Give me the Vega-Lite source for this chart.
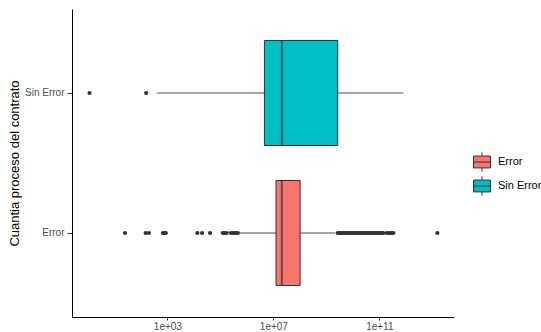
{
  "$schema": "https://vega.github.io/schema/vega-lite/v6.json",
  "autosize": "none",
  "width": 382,
  "height": 308,
  "padding": {"left": 72, "top": 9, "right": 87, "bottom": 15},
  "background": "white",
  "config": {
    "font": "Liberation Sans",
    "view": {"stroke": null},
    "axis": {"grid": false, "domainColor": "#000000", "domainWidth": 1, "tickColor": "#333333", "tickSize": 5, "labelColor": "#4d4d4d", "labelFontSize": 10, "titleFontWeight": "normal", "titleColor": "#000000", "titleFontSize": 13}
  },
  "datasets": {
    "stats": [
      {"grupo": "Sin Error", "lower": 400, "q1": 4.6e6, "median": 2.1e7, "q3": 2.7e9, "upper": 8.1e11},
      {"grupo": "Error", "lower": 5.5e5, "q1": 1.26e7, "median": 2.09e7, "q3": 1.02e8, "upper": 2.14e9}
    ],
    "outliers": [
      {"grupo": "Sin Error", "valor": 1.15},
      {"grupo": "Sin Error", "valor": 158},
      {"grupo": "Error", "valor": 25},
      {"grupo": "Error", "valor": 151},
      {"grupo": "Error", "valor": 200},
      {"grupo": "Error", "valor": 676},
      {"grupo": "Error", "valor": 794},
      {"grupo": "Error", "valor": 871},
      {"grupo": "Error", "valor": 13500},
      {"grupo": "Error", "valor": 20400},
      {"grupo": "Error", "valor": 40700},
      {"grupo": "Error", "valor": 123000},
      {"grupo": "Error", "valor": 145000},
      {"grupo": "Error", "valor": 174000},
      {"grupo": "Error", "valor": 251000},
      {"grupo": "Error", "valor": 295000},
      {"grupo": "Error", "valor": 339000},
      {"grupo": "Error", "valor": 398000},
      {"grupo": "Error", "valor": 457000},
      {"grupo": "Error", "valor": 2.7e9},
      {"grupo": "Error", "valor": 3.2e9},
      {"grupo": "Error", "valor": 3.6e9},
      {"grupo": "Error", "valor": 4.0e9},
      {"grupo": "Error", "valor": 4.5e9},
      {"grupo": "Error", "valor": 5.0e9},
      {"grupo": "Error", "valor": 5.6e9},
      {"grupo": "Error", "valor": 6.3e9},
      {"grupo": "Error", "valor": 7.1e9},
      {"grupo": "Error", "valor": 8.0e9},
      {"grupo": "Error", "valor": 9.0e9},
      {"grupo": "Error", "valor": 1.0e10},
      {"grupo": "Error", "valor": 1.13e10},
      {"grupo": "Error", "valor": 1.26e10},
      {"grupo": "Error", "valor": 1.4e10},
      {"grupo": "Error", "valor": 1.6e10},
      {"grupo": "Error", "valor": 1.8e10},
      {"grupo": "Error", "valor": 2.0e10},
      {"grupo": "Error", "valor": 2.2e10},
      {"grupo": "Error", "valor": 2.5e10},
      {"grupo": "Error", "valor": 2.8e10},
      {"grupo": "Error", "valor": 3.2e10},
      {"grupo": "Error", "valor": 3.6e10},
      {"grupo": "Error", "valor": 4.0e10},
      {"grupo": "Error", "valor": 4.5e10},
      {"grupo": "Error", "valor": 5.0e10},
      {"grupo": "Error", "valor": 5.6e10},
      {"grupo": "Error", "valor": 6.3e10},
      {"grupo": "Error", "valor": 7.1e10},
      {"grupo": "Error", "valor": 8.0e10},
      {"grupo": "Error", "valor": 9.0e10},
      {"grupo": "Error", "valor": 1.0e11},
      {"grupo": "Error", "valor": 1.13e11},
      {"grupo": "Error", "valor": 1.3e11},
      {"grupo": "Error", "valor": 1.4e11},
      {"grupo": "Error", "valor": 1.9e11},
      {"grupo": "Error", "valor": 2.2e11},
      {"grupo": "Error", "valor": 2.6e11},
      {"grupo": "Error", "valor": 3.0e11},
      {"grupo": "Error", "valor": 3.4e11},
      {"grupo": "Error", "valor": 1.55e13}
    ]
  },
  "encoding": {
    "y": {
      "field": "grupo", "type": "nominal",
      "scale": {"domain": ["Sin Error", "Error"], "paddingInner": 0.25, "paddingOuter": 0.225},
      "axis": {"title": "Cuantia proceso del contrato", "labelPadding": 3, "titlePadding": 3}
    }
  },
  "layer": [
    {
      "data": {"name": "stats"},
      "mark": {"type": "rule", "color": "#4d4d4d", "strokeWidth": 1},
      "encoding": {
        "x": {
          "field": "lower", "type": "quantitative",
          "scale": {"type": "log", "domain": [0.25, 6.6e13], "nice": false, "zero": false},
          "axis": {
            "title": null,
            "values": [1e3, 1e7, 1e11],
            "labelExpr": "'1e+' + (round(log(datum.value) / LN10) < 10 ? '0' : '') + round(log(datum.value) / LN10)",
            "tickSize": 3,
            "labelPadding": 1
          }
        },
        "x2": {"field": "upper"}
      }
    },
    {
      "data": {"name": "stats"},
      "mark": {"type": "bar", "stroke": "#333333", "strokeWidth": 1},
      "encoding": {
        "x": {"field": "q1", "type": "quantitative"},
        "x2": {"field": "q3"},
        "color": {
          "field": "grupo", "type": "nominal",
          "scale": {"domain": ["Error", "Sin Error"], "range": ["#F8766D", "#00BFC4"]},
          "legend": {
            "title": null,
            "orient": "none",
            "legendX": 401,
            "legendY": 144,
            "symbolType": "M-1,-0.7H1V0.7H-1Z M-1,0H1 M0,-0.7V-1.15 M0,0.7V1.15",
            "symbolSize": 289,
            "symbolStrokeColor": "#333333",
            "symbolStrokeWidth": 1,
            "symbolOpacity": 1,
            "labelFontSize": 11,
            "labelColor": "#000000",
            "rowPadding": 0,
            "labelOffset": 7
          }
        }
      }
    },
    {
      "data": {"name": "stats"},
      "mark": {"type": "tick", "color": "#333333", "thickness": 2, "size": 105, "orient": "vertical"},
      "encoding": {
        "x": {"field": "median", "type": "quantitative"}
      }
    },
    {
      "data": {"name": "outliers"},
      "mark": {"type": "point", "filled": true, "color": "#333333", "opacity": 1, "size": 18},
      "encoding": {
        "x": {"field": "valor", "type": "quantitative"}
      }
    }
  ]
}
